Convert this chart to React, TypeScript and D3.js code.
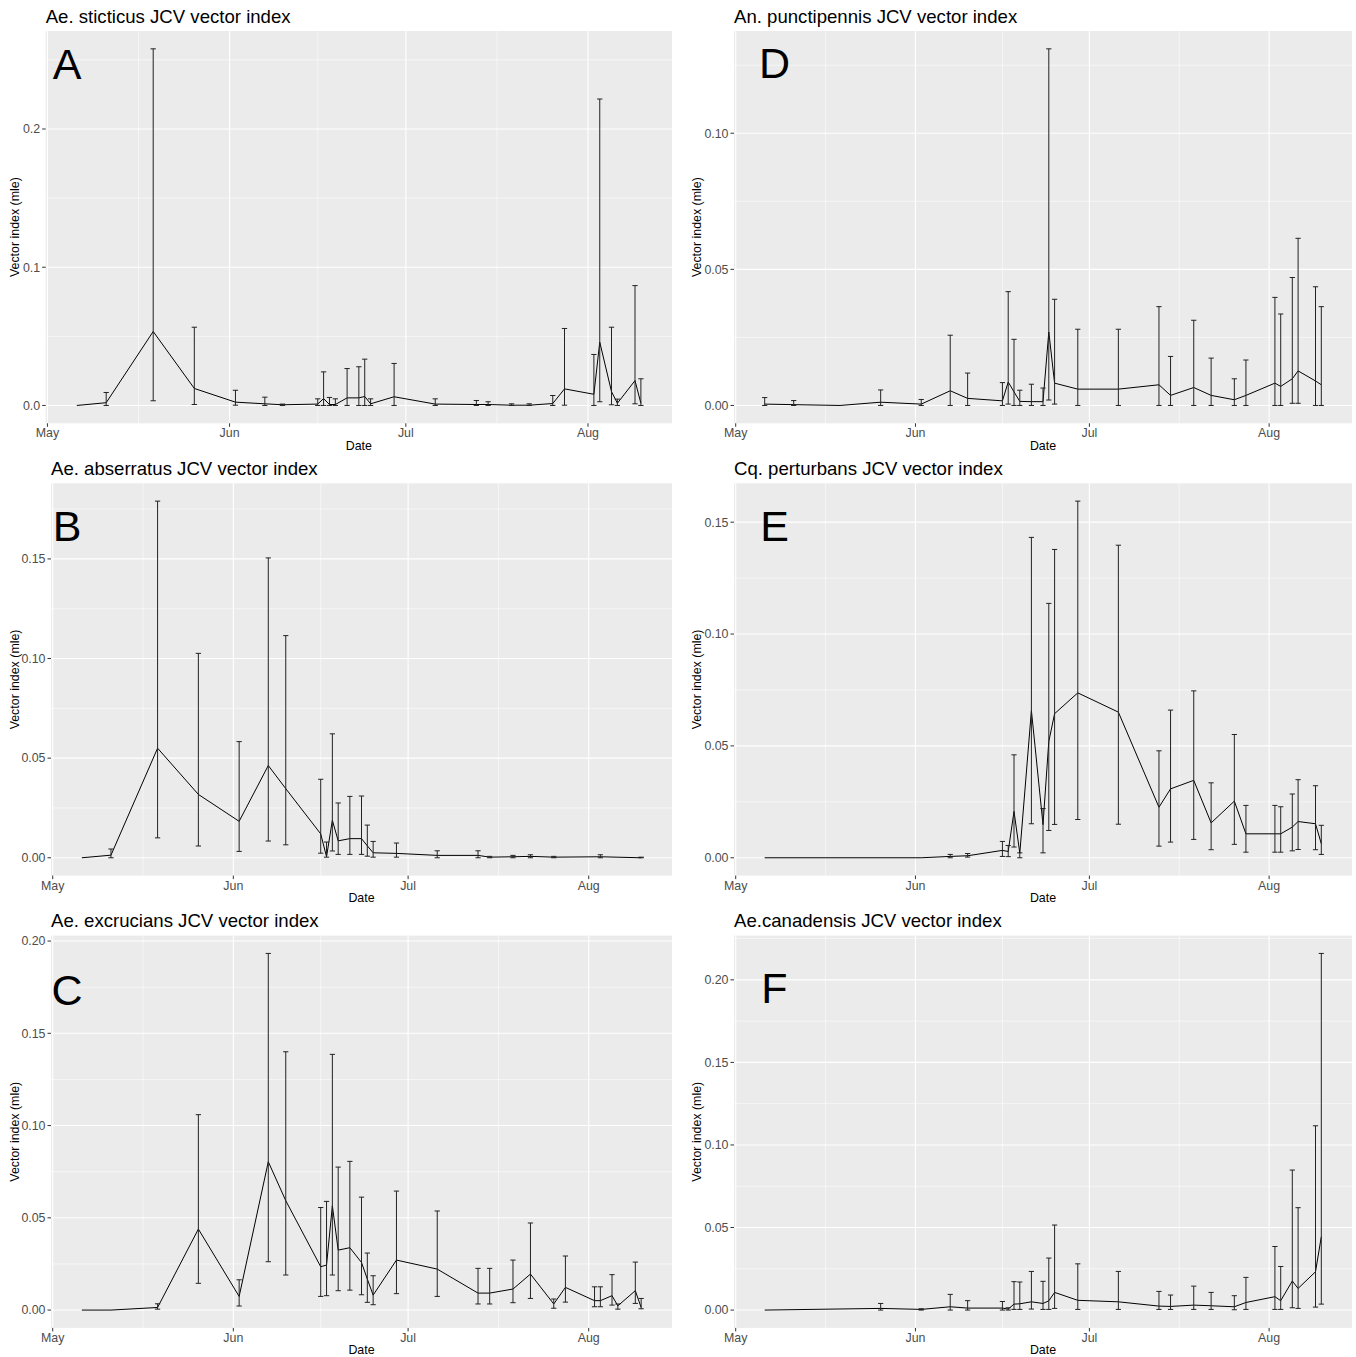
// Six-panel JCV vector index figure (ggplot-style) drawn with d3 scales.
import * as d3 from "d3";

const SAMPLE_DATES = [
  "2019-05-06", "2019-05-11", "2019-05-19", "2019-05-26", "2019-06-02", "2019-06-07",
  "2019-06-10", "2019-06-16", "2019-06-17", "2019-06-18", "2019-06-19", "2019-06-21",
  "2019-06-23", "2019-06-24", "2019-06-25", "2019-06-29", "2019-07-06", "2019-07-13",
  "2019-07-15", "2019-07-19", "2019-07-22", "2019-07-26", "2019-07-28", "2019-08-02",
  "2019-08-03", "2019-08-05", "2019-08-06", "2019-08-09", "2019-08-10",
];

// A — Ae. sticticus
const STICTICUS_MLE = [0, 0.002, 0.0535, 0.0123, 0.0024, 0.0012, 0.0005, 0.001, 0.005, 0.0007, 0.0007, 0.0055, 0.0055, 0.0065, 0.0012, 0.0063, 0.001, 0.0007, 0.0007, 0.0002, 0.0002, 0.0014, 0.012, 0.0081, 0.0458, 0.01, 0.0016, 0.018, 0.0016];
const STICTICUS_LO = [null, 0, 0.0034, 0.0007, 0.0002, 0, 0, 0, 0, 0, 0, 0, 0, 0, 0, 0, 0, 0, 0, 0, 0, 0, 0.0002, 0, 0.0027, 0.0005, 0, 0.0012, 0];
const STICTICUS_HI = [null, 0.0094, 0.258, 0.0566, 0.011, 0.006, 0.001, 0.0048, 0.0243, 0.0058, 0.0048, 0.0267, 0.028, 0.0335, 0.0048, 0.0304, 0.0048, 0.0036, 0.0027, 0.0012, 0.0012, 0.0072, 0.0557, 0.0369, 0.2217, 0.0566, 0.0046, 0.0867, 0.0193];

// B — Ae. abserratus
const ABSERRATUS_MLE = [0, 0.0013, 0.055, 0.0318, 0.0183, 0.0463, 0.0347, 0.012, 0.0005, 0.0188, 0.0085, 0.0096, 0.0096, 0.006, 0.0025, 0.0022, 0.0012, 0.0012, 0.0003, 0.0005, 0.0007, 0.0003, null, null, 0.0005, null, null, null, 0];
const ABSERRATUS_LO = [null, 0, 0.01, 0.0059, 0.0032, 0.0084, 0.0065, 0.0023, 0.0003, 0.0034, 0.0017, 0.0017, 0.0017, 0.0008, 0.0003, 0.0003, 0, 0, 0, 0, 0, 0, null, null, 0, null, null, null, 0];
const ABSERRATUS_HI = [null, 0.0044, 0.179, 0.1026, 0.0583, 0.1505, 0.1115, 0.0394, 0.0079, 0.0622, 0.0275, 0.0308, 0.031, 0.0164, 0.0082, 0.0074, 0.0035, 0.0035, 0.0007, 0.0012, 0.0015, 0.0007, null, null, 0.0015, null, null, null, 0.0003];

// C — Ae. excrucians
const EXCRUCIANS_MLE = [0, 0, 0.0014, 0.0439, 0.0074, 0.0804, 0.0593, 0.0235, 0.0244, 0.0565, 0.0325, 0.0338, 0.0258, 0.0168, 0.0081, 0.0271, 0.0222, 0.0092, 0.0092, 0.0114, 0.0195, 0.0033, 0.0123, 0.0051, 0.0051, 0.0078, 0.0023, 0.0105, 0.0014];
const EXCRUCIANS_LO = [null, null, 0.0005, 0.0145, 0.0022, 0.0262, 0.019, 0.0074, 0.0078, 0.019, 0.0105, 0.0108, 0.0083, 0.0042, 0.0029, 0.0089, 0.0074, 0.0033, 0.0033, 0.004, 0.0063, 0.001, 0.0043, 0.0018, 0.0018, 0.0027, 0.0005, 0.0036, 0.0007];
const EXCRUCIANS_HI = [null, null, 0.0034, 0.1059, 0.0164, 0.1933, 0.14, 0.0556, 0.0589, 0.1386, 0.0775, 0.0806, 0.0612, 0.0309, 0.0186, 0.0645, 0.0537, 0.0226, 0.0226, 0.0271, 0.0472, 0.006, 0.0293, 0.0126, 0.0126, 0.0192, 0.0033, 0.026, 0.0063];

// D — An. punctipennis
const PUNCTIPENNIS_MLE = [0.0005, 0.0003, 0, 0.0012, 0.0005, 0.0054, 0.0026, 0.0017, 0.0086, 0.005, 0.0015, 0.0014, 0.0014, 0.027, 0.0082, 0.006, 0.006, 0.0076, 0.0037, 0.0066, 0.0037, 0.0021, 0.0037, 0.0082, 0.007, 0.0098, 0.0127, 0.009, 0.0076];
const PUNCTIPENNIS_LO = [0, 0, null, 0, 0, 0, 0, 0, 0.0005, 0, 0, 0, 0, 0.002, 0.0005, 0, 0, 0, 0, 0, 0, 0, 0, 0, 0, 0.0008, 0.0008, 0, 0];
const PUNCTIPENNIS_HI = [0.0029, 0.0018, null, 0.0057, 0.0022, 0.0258, 0.0119, 0.0084, 0.0418, 0.0243, 0.0056, 0.0078, 0.0064, 0.131, 0.039, 0.028, 0.028, 0.0363, 0.018, 0.0313, 0.0174, 0.0098, 0.0167, 0.0397, 0.0336, 0.047, 0.0614, 0.0436, 0.0363];

// E — Cq. perturbans
const PERTURBANS_MLE = [0, null, null, null, 0, 0.0006, 0.0009, 0.0033, 0.0028, 0.0207, 0.0021, 0.0658, 0.0148, 0.052, 0.0644, 0.0737, 0.0651, 0.0226, 0.0308, 0.0346, 0.0156, 0.0253, 0.0107, 0.0107, 0.0107, 0.0137, 0.0162, 0.0152, 0.0063];
const PERTURBANS_LO = [null, null, null, null, null, 0, 0.0003, 0.0006, 0.0005, 0.0048, 0, 0.0152, 0.0022, 0.0122, 0.0149, 0.0171, 0.015, 0.0052, 0.007, 0.0082, 0.0036, 0.006, 0.0025, 0.0025, 0.0025, 0.0031, 0.0037, 0.0036, 0.0015];
const PERTURBANS_HI = [null, null, null, null, null, 0.0015, 0.0019, 0.0073, 0.0055, 0.046, 0.0022, 0.1432, 0.022, 0.1137, 0.1378, 0.1594, 0.1397, 0.0478, 0.066, 0.0746, 0.0335, 0.0551, 0.0234, 0.0234, 0.0228, 0.0285, 0.0349, 0.0322, 0.0145];

// F — Ae. canadensis
const CANADENSIS_MLE = [0, null, null, 0.001, 0.0004, 0.002, 0.0012, 0.0012, 0.0006, 0.0036, 0.0038, 0.005, 0.004, 0.0056, 0.0107, 0.0059, 0.005, 0.0024, 0.0022, 0.003, 0.0026, 0.002, 0.0046, 0.0081, 0.0057, 0.0176, 0.0131, 0.0232, 0.0444];
const CANADENSIS_LO = [null, null, null, 0, 0, 0, 0, 0, 0, 0.0004, 0.0004, 0.0006, 0.0004, 0.0004, 0.001, 0.0004, 0.0004, 0.0004, 0.0004, 0.0004, 0.0004, 0.0002, 0.0004, 0.0004, 0.0004, 0.0014, 0.001, 0.0018, 0.0036];
const CANADENSIS_HI = [null, null, null, 0.004, 0.0008, 0.0095, 0.0057, 0.0052, 0.0014, 0.0172, 0.017, 0.0234, 0.0174, 0.0315, 0.0515, 0.028, 0.0234, 0.0113, 0.0091, 0.0145, 0.0107, 0.0087, 0.0198, 0.0385, 0.0264, 0.0848, 0.062, 0.1116, 0.216];

const TICKS_01 = [0, 0.1, 0.2];
const TICKS_005_010 = [0, 0.05, 0.1];
const TICKS_005_015 = [0, 0.05, 0.1, 0.15];
const TICKS_005_020 = [0, 0.05, 0.1, 0.15, 0.2];

// layout (pixels)
const W = 1356;
const H = 1357;
const ROW_TOP = [31, 483.3, 935.6];
const PANEL_H = 392.3;
const COL_RIGHT = [672, 1352];
const YTITLE_X = [18.5, 700.5];
const LETTER_X = [67, 774.5];
const FONT = "'Liberation Sans', Arial, Helvetica, sans-serif";
const DAY = 864e5;

const PANELS = [
  { letter: "A", title: "Ae. sticticus JCV vector index", mle: STICTICUS_MLE, lo: STICTICUS_LO, hi: STICTICUS_HI, ticks: TICKS_01, fmt: ".1f", row: 0, col: 0, left: 45.7, letterY: 48 },
  { letter: "B", title: "Ae. abserratus JCV vector index", mle: ABSERRATUS_MLE, lo: ABSERRATUS_LO, hi: ABSERRATUS_HI, ticks: TICKS_005_015, fmt: ".2f", row: 1, col: 0, left: 51, letterY: 57.7 },
  { letter: "C", title: "Ae. excrucians JCV vector index", mle: EXCRUCIANS_MLE, lo: EXCRUCIANS_LO, hi: EXCRUCIANS_HI, ticks: TICKS_005_020, fmt: ".2f", row: 2, col: 0, left: 51, letterY: 69.4 },
  { letter: "D", title: "An. punctipennis JCV vector index", mle: PUNCTIPENNIS_MLE, lo: PUNCTIPENNIS_LO, hi: PUNCTIPENNIS_HI, ticks: TICKS_005_010, fmt: ".2f", row: 0, col: 1, left: 734, letterY: 47 },
  { letter: "E", title: "Cq. perturbans JCV vector index", mle: PERTURBANS_MLE, lo: PERTURBANS_LO, hi: PERTURBANS_HI, ticks: TICKS_005_015, fmt: ".2f", row: 1, col: 1, left: 734, letterY: 57.7 },
  { letter: "F", title: "Ae.canadensis JCV vector index", mle: CANADENSIS_MLE, lo: CANADENSIS_LO, hi: CANADENSIS_HI, ticks: TICKS_005_020, fmt: ".2f", row: 2, col: 1, left: 734, letterY: 67.4 },
];

const parseDate = d3.timeParse("%Y-%m-%d");

function Panel({ p }) {
  const top = ROW_TOP[p.row];
  const bottom = top + PANEL_H;
  const left = p.left;
  const right = COL_RIGHT[p.col];

  const pts = SAMPLE_DATES.map((d, i) => ({
    date: parseDate(d),
    mle: p.mle[i],
    lo: p.lo[i],
    hi: p.hi[i],
  })).filter((d) => d.mle != null);

  // errorbar width 0.9 day, then ggplot's 5% expansion
  const half = 0.45 * DAY;
  const t0 = d3.min(pts, (d) => +d.date) - half;
  const t1 = d3.max(pts, (d) => +d.date) + half;
  const tp = (t1 - t0) * 0.05;
  const x = d3.scaleTime().domain([new Date(t0 - tp), new Date(t1 + tp)]).range([left, right]);

  const v0 = d3.min(pts, (d) => Math.min(d.mle, d.lo ?? d.mle));
  const v1 = d3.max(pts, (d) => Math.max(d.mle, d.hi ?? d.mle));
  const vp = (v1 - v0) * 0.05;
  const y = d3.scaleLinear().domain([v0 - vp, v1 + vp]).range([bottom, top]);

  const [xd0, xd1] = x.domain();
  const months = d3.timeMonth.range(d3.timeMonth.floor(xd0), d3.timeMonth.offset(xd1, 2));
  const xMajor = months.filter((m) => m >= xd0 && m <= xd1);
  const xMinor = d3.pairs(months)
    .map(([a, b]) => new Date((+a + +b) / 2))
    .filter((m) => m >= xd0 && m <= xd1);

  const step = p.ticks[1] - p.ticks[0];
  const yMinor = [p.ticks[0] - step, ...p.ticks]
    .map((v) => v + step / 2)
    .filter((v) => y(v) >= top && y(v) <= bottom);

  const line = d3.line<any>().x((d) => x(d.date)).y((d) => y(d.mle));
  const bars = pts.filter((d) => d.lo != null && d.hi != null);
  const fmt = d3.format(p.fmt);

  return (
    <g>
      <text x={left} y={top - 8.3} fontSize={18.6} fill="#000">{p.title}</text>
      <rect x={left} y={top} width={right - left} height={bottom - top} fill="#EBEBEB" />
      {xMinor.map((m, i) => (
        <line key={"xm" + i} x1={x(m)} x2={x(m)} y1={top} y2={bottom} stroke="#fff" strokeWidth={0.55} />
      ))}
      {yMinor.map((v, i) => (
        <line key={"ym" + i} x1={left} x2={right} y1={y(v)} y2={y(v)} stroke="#fff" strokeWidth={0.55} />
      ))}
      {xMajor.map((m, i) => (
        <line key={"xM" + i} x1={x(m)} x2={x(m)} y1={top} y2={bottom} stroke="#fff" strokeWidth={1.1} />
      ))}
      {p.ticks.map((v, i) => (
        <line key={"yM" + i} x1={left} x2={right} y1={y(v)} y2={y(v)} stroke="#fff" strokeWidth={1.1} />
      ))}

      <path d={line(pts)} fill="none" stroke="#000" strokeWidth={1} />
      {bars.map((d, i) => {
        const xc = x(d.date);
        const xa = x(new Date(+d.date - half));
        const xb = x(new Date(+d.date + half));
        const yh = y(d.hi);
        const yl = y(d.lo);
        return (
          <path
            key={"eb" + i}
            d={`M${xa},${yh}H${xb}M${xc},${yh}V${yl}M${xa},${yl}H${xb}`}
            fill="none"
            stroke="#222"
            strokeWidth={1}
          />
        );
      })}

      <text x={LETTER_X[p.col]} y={top + p.letterY} fontSize={43} textAnchor="middle" fill="#000">{p.letter}</text>

      {p.ticks.map((v, i) => (
        <g key={"yt" + i}>
          <line x1={left - 3.5} x2={left} y1={y(v)} y2={y(v)} stroke="#333" strokeWidth={1} />
          <text x={left - 5.5} y={y(v)} dy="0.35em" textAnchor="end" fontSize={12.4} fill="#4D4D4D">{fmt(v)}</text>
        </g>
      ))}
      {xMajor.map((m, i) => (
        <g key={"xt" + i}>
          <line x1={x(m)} x2={x(m)} y1={bottom} y2={bottom + 3.5} stroke="#333" strokeWidth={1} />
          <text x={x(m)} y={bottom + 14} textAnchor="middle" fontSize={12.4} fill="#4D4D4D">{d3.timeFormat("%b")(m)}</text>
        </g>
      ))}
      <text x={(left + right) / 2} y={bottom + 26.2} textAnchor="middle" fontSize={12.4} fill="#000">Date</text>
      <text
        transform={`translate(${YTITLE_X[p.col]},${(top + bottom) / 2}) rotate(-90)`}
        textAnchor="middle"
        fontSize={12.4}
        fill="#000"
      >
        Vector index (mle)
      </text>
    </g>
  );
}

export default function App() {
  return (
    <svg
      width={W}
      height={H}
      viewBox={`0 0 ${W} ${H}`}
      style={{ position: "absolute", left: 0, top: 0, background: "#fff" }}
      fontFamily={FONT}
    >
      <rect width={W} height={H} fill="#fff" />
      {PANELS.map((p) => (
        <Panel key={p.letter} p={p} />
      ))}
    </svg>
  );
}
